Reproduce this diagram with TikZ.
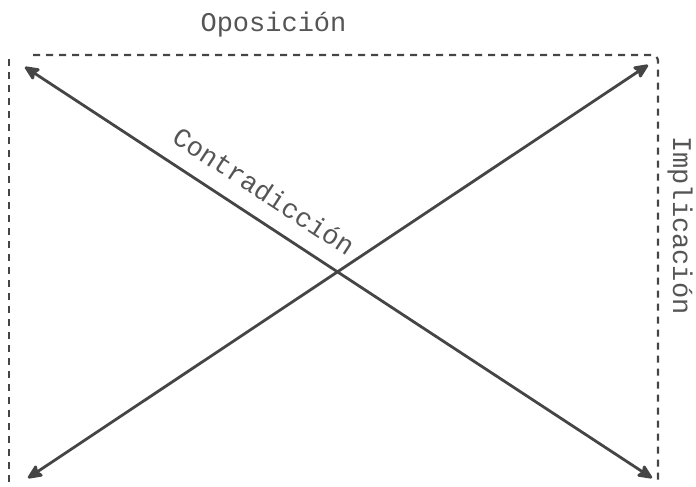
\documentclass[tikz,border=0pt]{standalone}
\usepackage{fontspec}
\setmonofont{Liberation Mono}
\usetikzlibrary{arrows.meta}
\definecolor{inkline}{HTML}{454545}
\definecolor{inktext}{HTML}{555555}
\tikzset{
  arrowline/.style={draw=inkline, line width=2.8pt, {Stealth[length=17pt,width=15pt,inset=3pt,round]}-{Stealth[length=17pt,width=15pt,inset=3pt,round]}},
  dashline/.style={draw=inkline, line width=2.2pt, dash pattern=on 7pt off 6pt},
  lbl/.style={text=inktext, font=\ttfamily\fontsize{27}{31}\selectfont, inner sep=0pt}
}
\begin{document}
\begin{tikzpicture}[x=1pt,y=-1pt]
\useasboundingbox (0,0) rectangle (696,487);
\coordinate (tl) at (25,67);
\coordinate (br) at (652,478);
\coordinate (bl) at (28,478);
\coordinate (tr) at (648,65);
\coordinate (topstart) at (33,55);
\coordinate (corner) at (658,55);
\coordinate (rightend) at (658,484);
\coordinate (lefttop) at (9,59);
\coordinate (leftend) at (9,487);
% dashed frame
\draw[dashline, rounded corners=6pt] (topstart) -- (corner) -- (rightend);
\draw[dashline] (lefttop) -- (leftend);
% diagonals
\draw[arrowline] (tl) -- (br);
\draw[arrowline] (bl) -- (tr);
% labels
\node[lbl, anchor=base] (opos) at (273.5,32) {Oposición};
\node[lbl, rotate=-33.2, anchor=center] (contra) at (264,191) {Contradicción};
\node[lbl, rotate=-90, anchor=base west] (impl) at (673,136) {Implicación};
\end{tikzpicture}
\end{document}
